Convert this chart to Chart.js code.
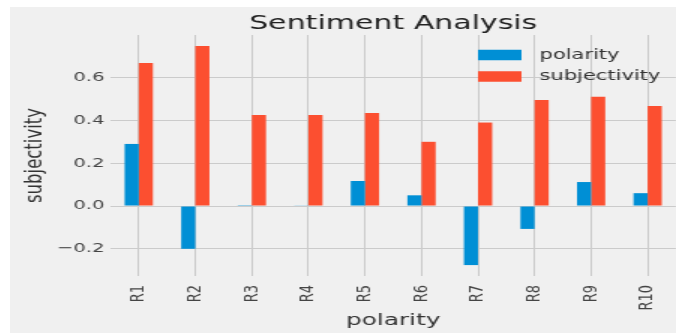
<!DOCTYPE html>
<html>
<head>
<meta charset="utf-8">
<script src="https://cdn.jsdelivr.net/npm/chart.js@4/dist/chart.umd.min.js"></script>
<style>
  html, body { margin: 0; padding: 0; background: #ffffff; width: 676px; height: 335px; overflow: hidden; }
  #wrap { position: absolute; left: 10px; top: 7px; width: 666px; height: 326px; overflow: hidden; }
  #c { position: absolute; left: 0; top: 0; transform-origin: 0 0; transform: scaleX(1.5); }
</style>
</head>
<body>
<div id="wrap"><canvas id="c" width="450" height="326"></canvas></div>
<script>
const categories = ['R1', 'R2', 'R3', 'R4', 'R5', 'R6', 'R7', 'R8', 'R9', 'R10'];
const polarity = [0.29, -0.20, 0.004, 0.003, 0.117, 0.05, -0.276, -0.107, 0.112, 0.06];
const subjectivity = [0.668, 0.748, 0.425, 0.425, 0.435, 0.30, 0.39, 0.495, 0.51, 0.467];
const yTicks = [-0.2, 0.0, 0.2, 0.4, 0.6];
const seriesNames = ['polarity', 'subjectivity'];
const seriesColors = ['#008fd5', '#fc4f30'];
const titleText = 'Sentiment Analysis';
const xTitle = 'polarity';
const yTitle = 'subjectivity';

const bgPlugin = {
  id: 'bg',
  beforeDraw(chart) {
    const ctx = chart.ctx;
    ctx.save();
    ctx.fillStyle = '#f0f0f0';
    ctx.fillRect(0, 0, chart.width, chart.height);
    ctx.restore();
  }
};

const legendPlugin = {
  id: 'customLegend',
  afterDraw(chart) {
    const ctx = chart.ctx;
    ctx.save();
    const x0 = 312, w = 29, h = 10.5;
    const rowsY = [48, 69.5];
    ctx.font = '14px "DejaVu Sans"';
    ctx.textBaseline = 'middle';
    ctx.textAlign = 'left';
    chart.data.datasets.forEach((ds, i) => {
      ctx.fillStyle = ds.backgroundColor;
      ctx.fillRect(x0, rowsY[i] - h / 2, w, h);
      ctx.fillStyle = '#333333';
      ctx.fillText(ds.label, 353, rowsY[i]);
    });
    ctx.restore();
  }
};

new Chart(document.getElementById('c'), {
  type: 'bar',
  data: {
    labels: categories,
    datasets: [
      { label: seriesNames[0], data: polarity, backgroundColor: seriesColors[0], borderWidth: 0 },
      { label: seriesNames[1], data: subjectivity, backgroundColor: seriesColors[1], borderWidth: 0 }
    ]
  },
  options: {
    responsive: false,
    animation: false,
    devicePixelRatio: 1,
    layout: { padding: { left: 0, right: 2.7, top: 0, bottom: 0 } },
    datasets: { bar: { categoryPercentage: 0.5, barPercentage: 1.0 } },
    plugins: {
      legend: { display: false },
      tooltip: { enabled: false },
      title: {
        display: true,
        text: titleText,
        fullSize: false,
        color: '#222222',
        font: { family: '"DejaVu Sans"', size: 20, weight: 'normal', lineHeight: 1.1 },
        padding: { top: 6, bottom: 0 }
      }
    },
    scales: {
      x: {
        offset: true,
        grid: { display: true, offset: false, color: '#cbcbcb', lineWidth: 1, drawTicks: false },
        border: { display: false },
        ticks: {
          color: '#444444',
          font: { family: '"DejaVu Sans"', size: 13 },
          minRotation: 90, maxRotation: 90, padding: 9, autoSkip: false
        },
        title: {
          display: true, text: xTitle, color: '#333333',
          font: { family: '"DejaVu Sans"', size: 16.5 },
          padding: { top: 0, bottom: 2 }
        },
        afterFit(s) { s.height = 57; }
      },
      y: {
        min: -0.327,
        max: 0.799,
        grid: { color: '#cbcbcb', lineWidth: 1, drawTicks: false },
        border: { display: false },
        afterBuildTicks(s) { s.ticks = yTicks.map(v => ({ value: v })); },
        ticks: {
          color: '#444444',
          font: { family: '"DejaVu Sans"', size: 13 },
          padding: 4,
          callback: (v) => (v < 0 ? '\u2212' : '') + Math.abs(v).toFixed(1)
        },
        title: {
          display: true, text: yTitle, color: '#333333',
          font: { family: '"DejaVu Sans"', size: 16.5 },
          padding: { top: 6.5, bottom: 0 }
        },
        afterFit(s) { s.width = 67; }
      }
    }
  },
  plugins: [bgPlugin, legendPlugin]
});
</script>
</body>
</html>
